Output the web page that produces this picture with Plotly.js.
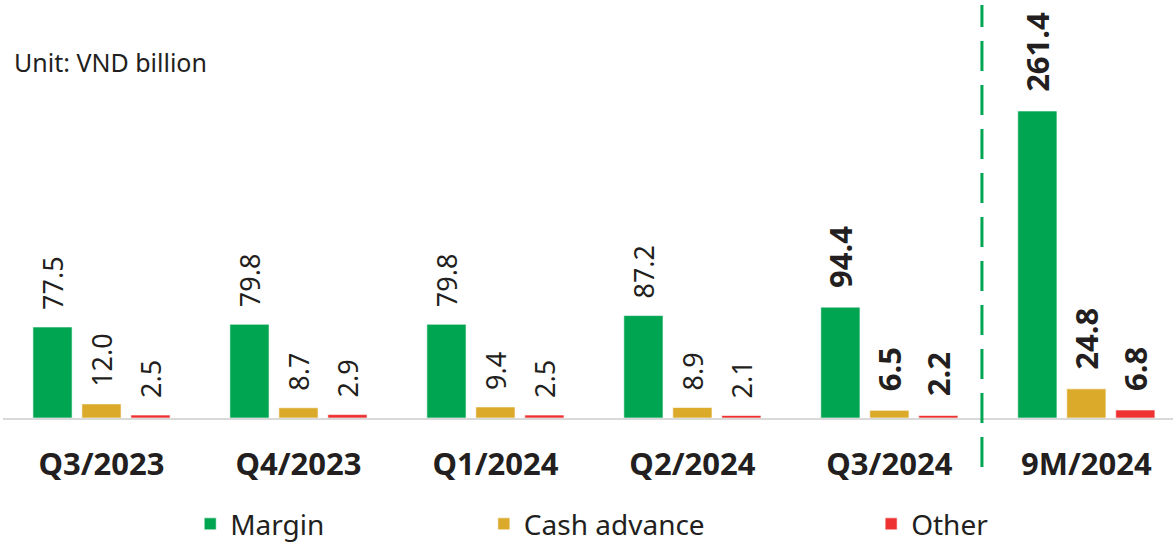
<!DOCTYPE html>
<html>
<head>
<meta charset="utf-8">
<script src="https://cdn.plot.ly/plotly-3.0.1.min.js"></script>
<style>html,body{margin:0;padding:0;background:#fff;}#chart{width:1173px;height:543px;}</style>
</head>
<body>
<div id="chart"></div>
<script>
const categories = ["Q3/2023", "Q4/2023", "Q1/2024", "Q2/2024", "Q3/2024", "9M/2024"];
const margin = [77.5, 79.8, 79.8, 87.2, 94.4, 261.4];
const cashAdvance = [12.0, 8.7, 9.4, 8.9, 6.5, 24.8];
const other = [2.5, 2.9, 2.5, 2.1, 2.2, 6.8];
const boldLabel = [false, false, false, false, true, true];
const seriesNames = ["Margin", "Cash advance", "Other"];
const unitText = "Unit: VND billion";

const FONT = "Noto Sans, Open Sans, sans-serif";
const TXT = "#231f20";
const colors = ["#00a551", "#dbaa2a", "#ee3131"];

function labels(vals) {
  return vals.map((v, i) => {
    const s = "\u00a0\u00a0" + v.toFixed(1);
    return boldLabel[i] ? "<b>" + s + "</b>" : s;
  });
}
function sizes(vals) { return vals.map((v, i) => boldLabel[i] ? 31 : 27); }

const series = [margin, cashAdvance, other];
const legends = ["legend", "legend2", "legend3"];
const traces = series.map((vals, k) => ({
  type: "bar",
  name: seriesNames[k],
  x: categories,
  y: vals,
  text: labels(vals),
  textposition: "outside",
  textangle: -90,
  constraintext: "none",
  cliponaxis: false,
  textfont: {family: FONT, size: sizes(vals), color: TXT},
  marker: {color: colors[k], line: {color: "rgba(255,255,255,0.6)", width: 1}},
  hoverinfo: "x+y",
  legend: legends[k]
}));

const legendBase = {
  orientation: "h",
  yanchor: "middle",
  y: -0.254,
  xanchor: "left",
  font: {family: FONT, size: 28, color: TXT},
  bgcolor: "rgba(0,0,0,0)",
  borderwidth: 0
};

const layout = {
  width: 1173,
  height: 543,
  margin: {l: 3, r: 0, t: 0, b: 125, autoexpand: false},
  paper_bgcolor: "#ffffff",
  plot_bgcolor: "#ffffff",
  bargap: 0.254,
  bargroupgap: 0.2,
  barmode: "group",
  showlegend: true,
  legend: Object.assign({}, legendBase, {x: 0.16}),
  legend2: Object.assign({}, legendBase, {x: 0.411}),
  legend3: Object.assign({}, legendBase, {x: 0.742}),
  xaxis: {
    type: "category",
    range: [-0.5, 5.44],
    automargin: false,
    showgrid: false,
    zeroline: false,
    showline: true,
    linecolor: "#d9d9d9",
    linewidth: 2,
    ticks: "",
    ticklabelstandoff: 18,
    tickfont: {family: FONT, size: 31, color: TXT, weight: "bold"},
    fixedrange: true
  },
  yaxis: {
    range: [0, 355.9],
    visible: false,
    automargin: false,
    showgrid: false,
    zeroline: false,
    fixedrange: true
  },
  shapes: [{
    type: "line",
    xref: "x",
    yref: "paper",
    x0: 4.47, x1: 4.47,
    y0: -0.117, y1: 0.988,
    line: {color: "#00a551", width: 3, dash: "30px,14px"}
  }],
  annotations: [{
    text: unitText,
    xref: "paper", yref: "paper",
    x: 0.0077, y: 0.852,
    xanchor: "left", yanchor: "middle",
    showarrow: false,
    font: {family: FONT, size: 25, color: TXT}
  }]
};

Plotly.newPlot("chart", traces, layout, {displayModeBar: false, staticPlot: true});
</script>
</body>
</html>
